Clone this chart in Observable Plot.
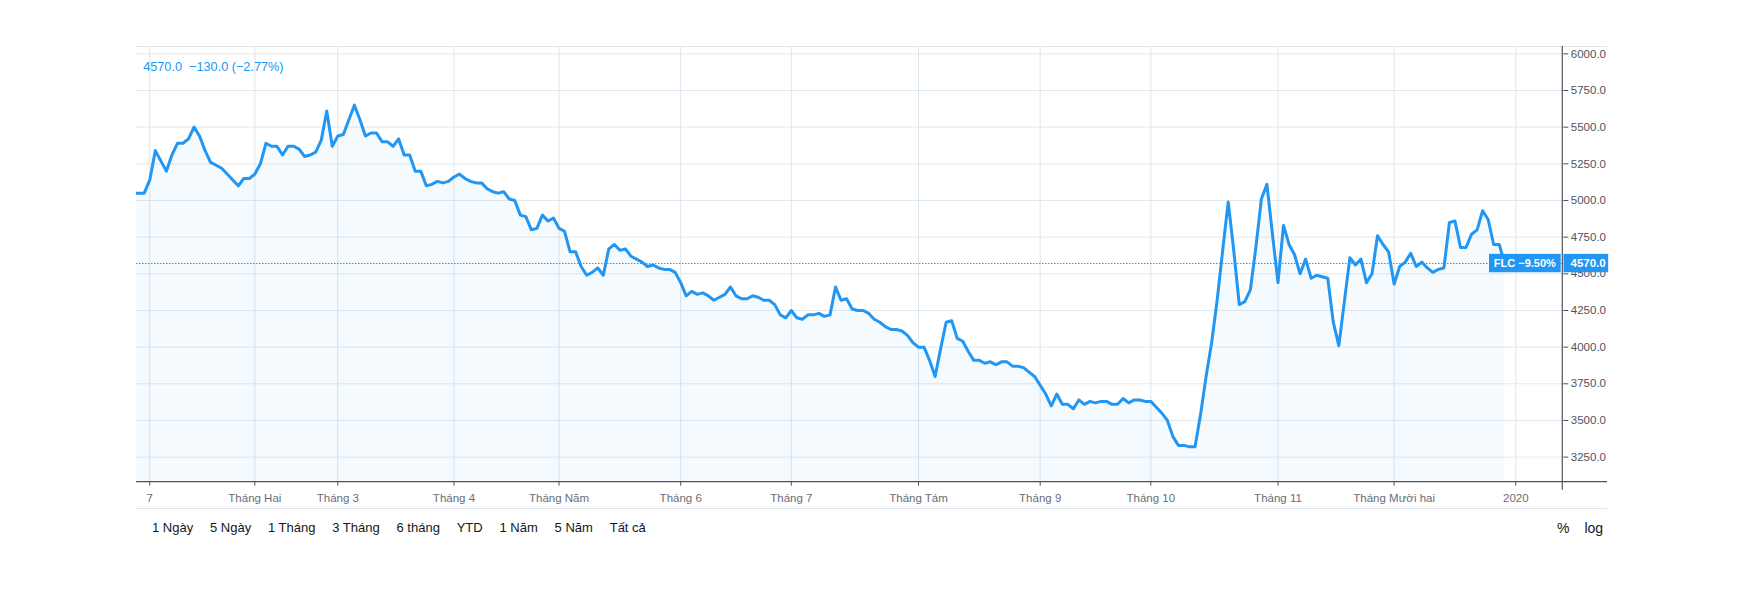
<!DOCTYPE html>
<html>
<head>
<meta charset="utf-8">
<script src="https://cdn.jsdelivr.net/npm/d3@7"></script>
<script src="https://cdn.jsdelivr.net/npm/@observablehq/plot@0.6"></script>
<style>
  body { margin: 0; background: #fff; font-family: "Liberation Sans", Arial, sans-serif; }
  #wrap { position: relative; width: 1743px; height: 593px; overflow: hidden; background: #fff; }
  #chart { position: absolute; left: 0; top: 0; }
  svg text { white-space: pre; }
  #sep { position: absolute; left: 136px; top: 508px; width: 1471px; border-top: 1px solid #e0e3eb; }
  #ranges { position: absolute; left: 152px; top: 519px; height: 18px; line-height: 18px; font-size: 13px; color: #131722; display: flex; gap: 16.8px; white-space: nowrap; }
  #opts { position: absolute; left: 1557px; top: 519px; height: 18px; line-height: 18px; font-size: 14px; color: #131722; display: flex; gap: 15px; }
</style>
</head>
<body>
<div id="wrap">
  <div id="chart"></div>
  <div id="sep"></div>
  <div id="ranges"></div>
  <div id="opts"></div>
</div>
<script>
// ---- Data (daily closes, trading-day order, 2019) ----
const ticker = "FLC";
const values = [
  5050, 5050, 5050, 5140, 5340, 5270, 5200, 5310, 5390, 5390,
  5420, 5500, 5440, 5340, 5260, 5240, 5220, 5180, 5140, 5100,
  5150, 5150, 5180, 5250, 5390, 5370, 5370, 5310, 5370, 5370,
  5350, 5300, 5310, 5330, 5410, 5610, 5370, 5440, 5450, 5550,
  5650, 5550, 5440, 5460, 5460, 5400, 5400, 5370, 5420, 5310,
  5310, 5200, 5200, 5100, 5110, 5130, 5120, 5130, 5160, 5180,
  5150, 5130, 5120, 5120, 5080, 5060, 5050, 5060, 5010, 5000,
  4900, 4890, 4800, 4810, 4900, 4860, 4880, 4810, 4790, 4650,
  4650, 4550, 4490, 4510, 4540, 4490, 4670, 4700, 4660, 4670,
  4620, 4600, 4580, 4550, 4560, 4540, 4530, 4530, 4510, 4440,
  4350, 4380, 4360, 4370, 4350, 4320, 4340, 4360, 4410, 4350,
  4330, 4330, 4350, 4340, 4320, 4320, 4290, 4220, 4200, 4250,
  4200, 4190, 4220, 4220, 4230, 4210, 4220, 4410, 4320, 4330,
  4260, 4250, 4250, 4230, 4190, 4170, 4140, 4120, 4120, 4110,
  4080, 4030, 4000, 4000, 3910, 3800, 3990, 4170, 4180, 4060,
  4040, 3970, 3910, 3910, 3890, 3900, 3880, 3900, 3900, 3870,
  3870, 3860, 3830, 3800, 3740, 3680, 3600, 3680, 3610, 3610,
  3580, 3640, 3610, 3630, 3620, 3630, 3630, 3610, 3610, 3650,
  3620, 3640, 3640, 3630, 3630, 3590, 3550, 3500, 3390, 3330,
  3330, 3320, 3320, 3540, 3800, 4030, 4320, 4660, 4990, 4660,
  4290, 4310, 4390, 4680, 5010, 5110, 4770, 4440, 4830, 4700,
  4630, 4500, 4600, 4470, 4490, 4480, 4470, 4170, 4010, 4310,
  4610, 4560, 4600, 4440, 4500, 4760, 4700, 4650, 4430, 4550,
  4580, 4640, 4550, 4580, 4540, 4510, 4530, 4540, 4850, 4860,
  4680, 4680, 4770, 4800, 4930, 4870, 4700, 4700, 4570
];
// tick positions are trading-day indexes into `values`
const tickIndex  = [3, 22, 37, 58, 77, 99, 119, 142, 164, 184, 207, 228, 250];
const tickLabels = ["7", "Tháng Hai", "Tháng 3", "Tháng 4", "Tháng Năm", "Tháng 6", "Tháng 7",
                    "Tháng Tám", "Tháng 9", "Tháng 10", "Tháng 11", "Tháng Mười hai", "2020"];
const yTicks = [3250, 3500, 3750, 4000, 4250, 4500, 4750, 5000, 5250, 5500, 5750, 6000];
const rangeButtons = ["1 Ngày", "5 Ngày", "1 Tháng", "3 Tháng", "6 tháng", "YTD", "1 Năm", "5 Năm", "Tất cả"];
const scaleOptions = ["%", "log"];

// ---- derived texts ----
const minus = s => s.replace("-", "\u2212");
const last = values[values.length - 1];
const prev = values[values.length - 2];
const chg = last - prev;
const chgPct = chg / prev * 100;
const periodPct = (last - values[0]) / values[0] * 100;
const header = `${last.toFixed(1)}  ${minus(chg.toFixed(1))} (${minus(chgPct.toFixed(2))}%)`;
const flcText = `${ticker} ${minus(periodPct.toFixed(2))}%`;

// ---- layout ----
const W = 1743, H = 509;
const plotLeft = 136, plotRight = 1562.3, plotTop = 46, plotBottom = 481.7, outerRight = 1607;
const yMin = 3079, yMax = 6050;
const FONT = '"Liberation Sans", Arial, sans-serif';
const BLUE = "#2196f3";
const AXIS = "#50535e";

const chart = Plot.plot({
  width: W, height: H,
  marginLeft: plotLeft, marginRight: W - plotRight,
  marginTop: plotTop, marginBottom: H - plotBottom,
  style: { fontFamily: FONT, background: "transparent", overflow: "visible" },
  x: { domain: [0.6, 258.5] },
  y: { domain: [yMin, yMax] },
  marks: [
    Plot.gridY(yTicks, { stroke: "#e3e9f0", strokeOpacity: 1 }),
    Plot.gridX(tickIndex, { stroke: "#dce6ee", strokeOpacity: 1 }),
    Plot.areaY(values, { x: (d, i) => i, y1: yMin, y2: d => d, fill: BLUE, fillOpacity: 0.05, clip: true }),
    Plot.ruleY([last], { stroke: BLUE, strokeWidth: 1, strokeDasharray: "1.5,1.5" }),
    Plot.lineY(values, { x: (d, i) => i, y: d => d, stroke: BLUE, strokeWidth: 3, clip: true }),
    Plot.axisX(tickIndex, {
      tickFormat: d => tickLabels[tickIndex.indexOf(d)],
      tickSize: 4, tickPadding: 8, fontSize: 11.5, fill: "#6a6d78", stroke: AXIS, label: null
    }),
    Plot.axisY(yTicks, {
      anchor: "right", tickFormat: d => d.toFixed(1),
      tickSize: 5, tickPadding: 3, fontSize: 11.5, fill: AXIS, stroke: AXIS, label: null
    }),
    Plot.text([header], {
      frameAnchor: "top-left", dx: 6.7, dy: 20, textAnchor: "start", lineAnchor: "middle",
      fill: BLUE, fontSize: 12.7
    })
  ]
});
document.getElementById("chart").appendChild(chart);

// ---- decorations (frame lines and price labels) ----
const svg = d3.select(chart);
const ys = chart.scale("y");
const yLast = ys.apply(last);

svg.append("line").attr("x1", plotLeft).attr("x2", outerRight).attr("y1", plotTop + 0.5).attr("y2", plotTop + 0.5)
  .attr("stroke", "#e0e3eb");
svg.append("line").attr("x1", plotLeft).attr("x2", outerRight).attr("y1", plotBottom).attr("y2", plotBottom)
  .attr("stroke", AXIS).attr("stroke-width", 1.2);

const boxH = 18.4;
const g = svg.append("g").attr("font-family", FONT).attr("font-weight", "bold");
g.append("rect").attr("x", 1489).attr("y", yLast - boxH / 2).attr("width", 1560.7 - 1489).attr("height", boxH)
  .attr("fill", BLUE);
g.append("text").attr("x", (1489 + 1560.7) / 2).attr("y", yLast).attr("dy", "0.36em")
  .attr("font-size", 11).attr("text-anchor", "middle").attr("fill", "#fff").text(flcText);
g.append("rect").attr("x", plotRight + 1.2).attr("y", yLast - boxH / 2).attr("width", outerRight - plotRight).attr("height", boxH)
  .attr("fill", BLUE);
g.append("text").attr("x", 1570.5).attr("y", yLast).attr("dy", "0.36em")
  .attr("font-size", 11.5).attr("text-anchor", "start").attr("fill", "#fff").text(last.toFixed(1));

svg.append("line").attr("x1", plotRight).attr("x2", plotRight).attr("y1", plotTop).attr("y2", plotBottom + 8)
  .attr("stroke", AXIS).attr("stroke-width", 1.2);

// ---- bottom toolbar ----
d3.select("#ranges").selectAll("span").data(rangeButtons).join("span").text(d => d);
d3.select("#opts").selectAll("span").data(scaleOptions).join("span").text(d => d);
</script>
</body>
</html>
